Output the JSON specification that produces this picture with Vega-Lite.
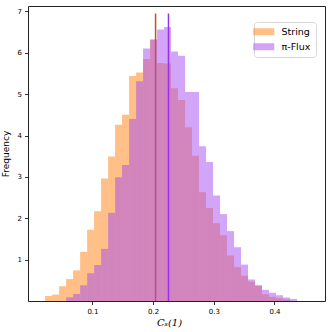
{
  "$schema": "https://vega.github.io/schema/vega-lite/v6.json",
  "width": 297,
  "height": 295,
  "autosize": {"type": "none"},
  "padding": {"left": 28, "top": 6, "right": 7, "bottom": 31},
  "config": {
    "font": "DejaVu Sans",
    "view": {"stroke": "#222", "strokeWidth": 1},
    "axis": {"grid": false, "domain": false, "tickColor": "#000", "tickSize": 3.5, "tickWidth": 0.8, "labelColor": "#000", "labelFontSize": 7, "labelFont": "DejaVu Sans", "titleColor": "#000", "titleFontWeight": "normal"}
  },
  "datasets": {
    "hist": [
      {"series": "String", "start": 0.0220, "end": 0.0335, "freq": 0.12},
      {"series": "String", "start": 0.0335, "end": 0.0451, "freq": 0.155},
      {"series": "String", "start": 0.0451, "end": 0.0566, "freq": 0.355},
      {"series": "String", "start": 0.0566, "end": 0.0681, "freq": 0.53},
      {"series": "String", "start": 0.0681, "end": 0.0797, "freq": 0.74},
      {"series": "String", "start": 0.0797, "end": 0.0912, "freq": 1.19},
      {"series": "String", "start": 0.0912, "end": 0.1027, "freq": 1.72},
      {"series": "String", "start": 0.1027, "end": 0.1142, "freq": 2.17},
      {"series": "String", "start": 0.1142, "end": 0.1258, "freq": 2.96},
      {"series": "String", "start": 0.1258, "end": 0.1373, "freq": 3.49},
      {"series": "String", "start": 0.1373, "end": 0.1488, "freq": 4.26},
      {"series": "String", "start": 0.1488, "end": 0.1604, "freq": 4.50},
      {"series": "String", "start": 0.1604, "end": 0.1719, "freq": 5.44},
      {"series": "String", "start": 0.1719, "end": 0.1834, "freq": 5.52},
      {"series": "String", "start": 0.1834, "end": 0.1950, "freq": 5.85},
      {"series": "String", "start": 0.1950, "end": 0.2065, "freq": 6.33},
      {"series": "String", "start": 0.2065, "end": 0.2180, "freq": 5.75},
      {"series": "String", "start": 0.2180, "end": 0.2295, "freq": 5.74},
      {"series": "String", "start": 0.2295, "end": 0.2411, "freq": 5.14},
      {"series": "String", "start": 0.2411, "end": 0.2526, "freq": 4.86},
      {"series": "String", "start": 0.2526, "end": 0.2641, "freq": 4.20},
      {"series": "String", "start": 0.2641, "end": 0.2757, "freq": 3.51},
      {"series": "String", "start": 0.2757, "end": 0.2872, "freq": 2.63},
      {"series": "String", "start": 0.2872, "end": 0.2987, "freq": 2.25},
      {"series": "String", "start": 0.2987, "end": 0.3103, "freq": 1.88},
      {"series": "String", "start": 0.3103, "end": 0.3218, "freq": 1.59},
      {"series": "String", "start": 0.3218, "end": 0.3333, "freq": 1.10},
      {"series": "String", "start": 0.3333, "end": 0.3448, "freq": 0.82},
      {"series": "String", "start": 0.3448, "end": 0.3564, "freq": 0.61},
      {"series": "String", "start": 0.3564, "end": 0.3679, "freq": 0.47},
      {"series": "String", "start": 0.3679, "end": 0.3794, "freq": 0.37},
      {"series": "String", "start": 0.3794, "end": 0.3910, "freq": 0.16},
      {"series": "String", "start": 0.3910, "end": 0.4025, "freq": 0.10},
      {"series": "String", "start": 0.4025, "end": 0.4140, "freq": 0.07},
      {"series": "String", "start": 0.4140, "end": 0.4256, "freq": 0.04},
      {"series": "π-Flux", "start": 0.0566, "end": 0.0681, "freq": 0.09},
      {"series": "π-Flux", "start": 0.0681, "end": 0.0797, "freq": 0.17},
      {"series": "π-Flux", "start": 0.0797, "end": 0.0912, "freq": 0.38},
      {"series": "π-Flux", "start": 0.0912, "end": 0.1027, "freq": 0.67},
      {"series": "π-Flux", "start": 0.1027, "end": 0.1142, "freq": 0.87},
      {"series": "π-Flux", "start": 0.1142, "end": 0.1258, "freq": 1.26},
      {"series": "π-Flux", "start": 0.1258, "end": 0.1373, "freq": 2.13},
      {"series": "π-Flux", "start": 0.1373, "end": 0.1488, "freq": 2.99},
      {"series": "π-Flux", "start": 0.1488, "end": 0.1604, "freq": 3.29},
      {"series": "π-Flux", "start": 0.1604, "end": 0.1719, "freq": 4.40},
      {"series": "π-Flux", "start": 0.1719, "end": 0.1834, "freq": 5.31},
      {"series": "π-Flux", "start": 0.1834, "end": 0.1950, "freq": 6.10},
      {"series": "π-Flux", "start": 0.1950, "end": 0.2065, "freq": 6.31},
      {"series": "π-Flux", "start": 0.2065, "end": 0.2180, "freq": 6.56},
      {"series": "π-Flux", "start": 0.2180, "end": 0.2295, "freq": 6.62},
      {"series": "π-Flux", "start": 0.2295, "end": 0.2411, "freq": 6.03},
      {"series": "π-Flux", "start": 0.2411, "end": 0.2526, "freq": 5.93},
      {"series": "π-Flux", "start": 0.2526, "end": 0.2641, "freq": 5.05},
      {"series": "π-Flux", "start": 0.2641, "end": 0.2757, "freq": 5.05},
      {"series": "π-Flux", "start": 0.2757, "end": 0.2872, "freq": 3.74},
      {"series": "π-Flux", "start": 0.2872, "end": 0.2987, "freq": 3.36},
      {"series": "π-Flux", "start": 0.2987, "end": 0.3103, "freq": 2.55},
      {"series": "π-Flux", "start": 0.3103, "end": 0.3218, "freq": 2.10},
      {"series": "π-Flux", "start": 0.3218, "end": 0.3333, "freq": 1.69},
      {"series": "π-Flux", "start": 0.3333, "end": 0.3448, "freq": 1.30},
      {"series": "π-Flux", "start": 0.3448, "end": 0.3564, "freq": 0.88},
      {"series": "π-Flux", "start": 0.3564, "end": 0.3679, "freq": 0.52},
      {"series": "π-Flux", "start": 0.3679, "end": 0.3794, "freq": 0.38},
      {"series": "π-Flux", "start": 0.3794, "end": 0.3910, "freq": 0.27},
      {"series": "π-Flux", "start": 0.3910, "end": 0.4025, "freq": 0.20},
      {"series": "π-Flux", "start": 0.4025, "end": 0.4140, "freq": 0.14},
      {"series": "π-Flux", "start": 0.4140, "end": 0.4256, "freq": 0.085},
      {"series": "π-Flux", "start": 0.4256, "end": 0.4371, "freq": 0.05}
    ],
    "means": [
      {"series": "String", "mean": 0.204, "bottom": 0, "top": 6.95},
      {"series": "π-Flux", "mean": 0.2253, "bottom": 0, "top": 6.95}
    ]
  },
  "layer": [
    {
      "data": {"name": "hist"},
      "transform": [{"filter": "datum.series === 'String'"}],
      "mark": {"type": "bar", "opacity": 0.5, "orient": "vertical"},
      "encoding": {
        "x": {"field": "start", "type": "quantitative", "scale": {"domain": [0.002, 0.475], "nice": false, "zero": false},
              "axis": {"values": [0.1, 0.2, 0.3, 0.4], "format": ".1f", "labelPadding": 3, "title": "Cₛ(1)", "titleFont": "DejaVu Serif", "titleFontStyle": "italic", "titleFontSize": 10, "titlePadding": 3, "titleX": 141}},
        "x2": {"field": "end"},
        "y": {"field": "freq", "type": "quantitative", "stack": null, "scale": {"domain": [0, 7.13], "nice": false},
              "axis": {"values": [1, 2, 3, 4, 5, 6, 7], "labelPadding": 3, "title": "Frequency", "titleFontSize": 9, "titlePadding": 7}},
        "color": {"field": "series", "type": "nominal", "scale": {"domain": ["String", "π-Flux"], "range": ["#ff7f0e", "#a64bf4"]},
                  "legend": {"title": null, "orient": "none", "legendX": 226, "legendY": 16, "padding": 5, "strokeColor": "#d8d8d8", "fillColor": "#ffffff", "cornerRadius": 3,
                             "symbolType": "M-3,-1H3V1H-3Z", "symbolSize": 49, "symbolOpacity": 0.5, "symbolStrokeWidth": 0,
                             "labelFontSize": 9.5, "labelFont": "DejaVu Sans", "labelColor": "#000", "labelOffset": 13, "rowPadding": 4}}
      }
    },
    {
      "data": {"name": "means"},
      "transform": [{"filter": "datum.series === 'String'"}],
      "mark": {"type": "rule", "color": "#c0561a", "strokeWidth": 1.5},
      "encoding": {
        "x": {"field": "mean", "type": "quantitative"},
        "y": {"field": "bottom", "type": "quantitative"},
        "y2": {"field": "top"}
      }
    },
    {
      "data": {"name": "hist"},
      "transform": [{"filter": "datum.series === 'π-Flux'"}],
      "mark": {"type": "bar", "opacity": 0.5, "orient": "vertical"},
      "encoding": {
        "x": {"field": "start", "type": "quantitative"},
        "x2": {"field": "end"},
        "y": {"field": "freq", "type": "quantitative", "stack": null},
        "color": {"field": "series", "type": "nominal"}
      }
    },
    {
      "data": {"name": "means"},
      "transform": [{"filter": "datum.series === 'π-Flux'"}],
      "mark": {"type": "rule", "color": "#9a2ef0", "strokeWidth": 1.5},
      "encoding": {
        "x": {"field": "mean", "type": "quantitative"},
        "y": {"field": "bottom", "type": "quantitative"},
        "y2": {"field": "top"}
      }
    }
  ]
}
